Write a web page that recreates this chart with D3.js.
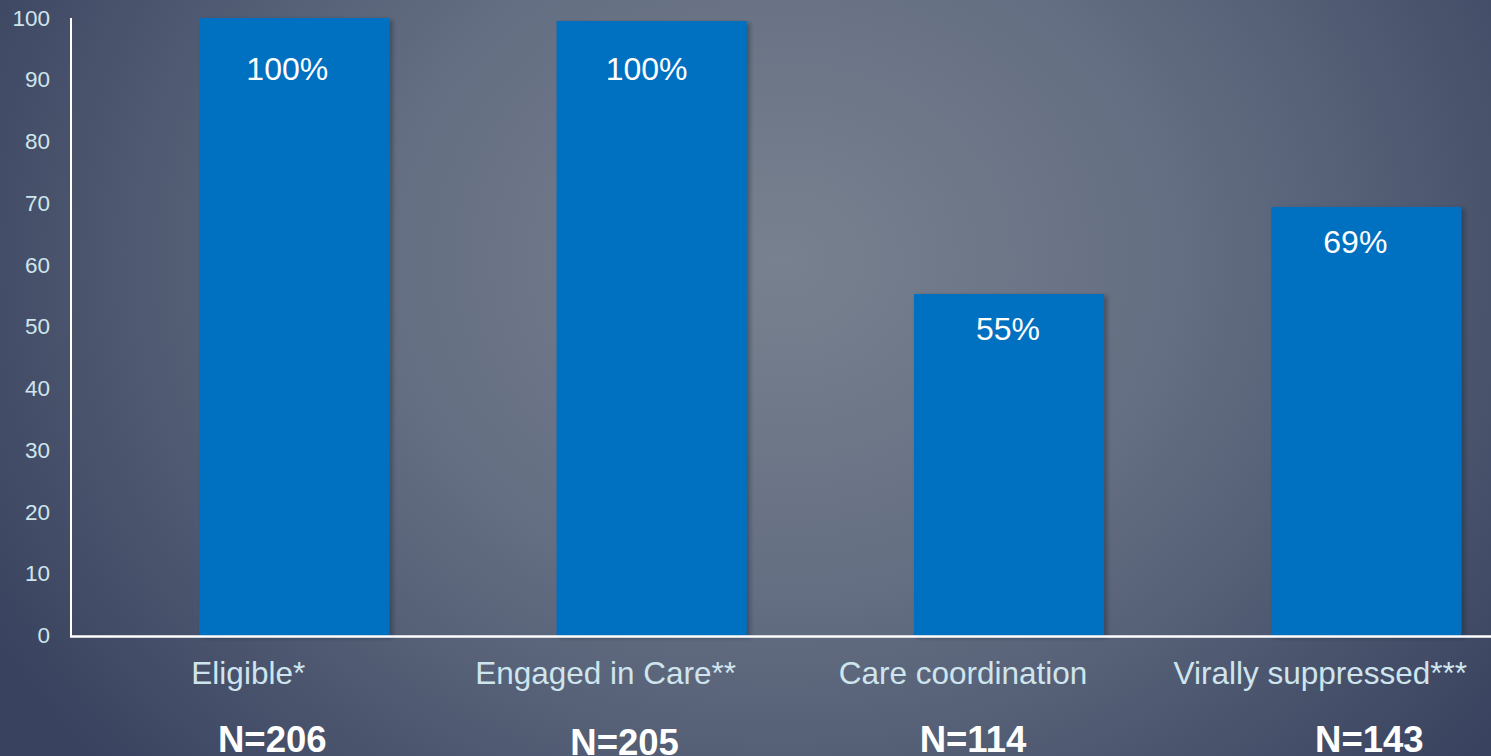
<!DOCTYPE html>
<html>
<head>
<meta charset="utf-8">
<script src="https://cdn.jsdelivr.net/npm/d3@7"></script>
<style>
  html, body { margin: 0; padding: 0; overflow: hidden; }
  body { width: 1491px; height: 756px; }
  svg { display: block; font-family: "Liberation Sans", Arial, sans-serif; }
</style>
</head>
<body>
<svg id="chart" width="1491" height="756"></svg>
<script>
// Care continuum data
const categories = ["Eligible*", "Engaged in Care**", "Care coordination", "Virally suppressed***"];
const percents = [100, 99.5, 55.3, 69.4];
const valueLabels = ["100%", "100%", "55%", "69%"];
const counts = ["N=206", "N=205", "N=114", "N=143"];
const yTicks = [0, 10, 20, 30, 40, 50, 60, 70, 80, 90, 100];

const W = 1491, H = 756;
const svg = d3.select("#chart");
const defs = svg.append("defs");

// Slide background: soft radial glow, darker toward the corners
const bg = defs.append("radialGradient")
  .attr("id", "bgGrad")
  .attr("gradientUnits", "userSpaceOnUse")
  .attr("cx", 780).attr("cy", 260).attr("r", 900)
  .attr("gradientTransform", "translate(780,260) scale(1,0.85) translate(-780,-260)");
bg.append("stop").attr("offset", "0%").attr("stop-color", "#78818f");
bg.append("stop").attr("offset", "45%").attr("stop-color", "#646e82");
bg.append("stop").attr("offset", "100%").attr("stop-color", "#39435f");

const shadow = defs.append("filter").attr("id", "barShadow")
  .attr("x", "-10%").attr("y", "-10%").attr("width", "130%").attr("height", "130%");
shadow.append("feDropShadow")
  .attr("dx", 3).attr("dy", 2).attr("stdDeviation", 2)
  .attr("flood-color", "#1a2030").attr("flood-opacity", 0.45);

svg.append("rect").attr("width", W).attr("height", H).attr("fill", "url(#bgGrad)");

const axisX0 = 71, axisX1 = 1491;
const y = d3.scaleLinear().domain([0, 100]).range([635.5, 18]);
const x = d3.scaleBand().domain(categories).range([115.6, 1545]).paddingInner(0.468).paddingOuter(0.234);

// Bars
svg.append("g").selectAll("rect")
  .data(percents)
  .join("rect")
  .attr("x", (d, i) => x(categories[i]))
  .attr("width", x.bandwidth())
  .attr("y", d => y(d))
  .attr("height", d => y(0) - y(d))
  .attr("fill", "#0070c0")
  .attr("filter", "url(#barShadow)");

// Axes
const yAxis = d3.axisLeft(y).tickValues(yTicks).tickSize(0).tickPadding(21).tickFormat(d3.format("d"));
const gy = svg.append("g").attr("transform", `translate(${axisX0},0)`).call(yAxis);
gy.select(".domain").remove();
gy.selectAll("text")
  .attr("fill", "#cfe5ee")
  .style("font-size", "22.5px")
  .style("font-family", "'Liberation Sans', Arial, sans-serif");

svg.append("line")
  .attr("x1", axisX0).attr("x2", axisX0)
  .attr("y1", y(100)).attr("y2", y(0) + 1)
  .attr("stroke", "#ffffff").attr("stroke-width", 2);
svg.append("line")
  .attr("x1", axisX0 - 1).attr("x2", axisX1)
  .attr("y1", y(0) + 1).attr("y2", y(0) + 1)
  .attr("stroke", "#ffffff").attr("stroke-width", 2.5);

// Percent labels inside bars (kept below the top band of the plot)
const labelShift = [-7, -5, -1, -11];
svg.append("g").selectAll("text")
  .data(percents)
  .join("text")
  .attr("x", (d, i) => x(categories[i]) + x.bandwidth() / 2 + labelShift[i])
  .attr("y", d => Math.max(y(d) + 46, y(90)))
  .attr("text-anchor", "middle")
  .attr("fill", "#ffffff")
  .style("font-size", "32px")
  .text((d, i) => valueLabels[i]);

// Category names
svg.append("g").selectAll("text")
  .data(categories)
  .join("text")
  .attr("x", d => x(d) + x.bandwidth() / 2 - 46)
  .attr("y", 684)
  .attr("text-anchor", "middle")
  .attr("fill", "#cfe5ee")
  .style("font-size", "31.5px")
  .text(d => d);

// Sample sizes
const nShift = [-22, -27, -36, 3];
svg.append("g").selectAll("text")
  .data(counts)
  .join("text")
  .attr("x", (d, i) => x(categories[i]) + x.bandwidth() / 2 + nShift[i])
  .attr("y", (d, i) => i === 1 ? 755 : 752)
  .attr("text-anchor", "middle")
  .attr("fill", "#ffffff")
  .style("font-size", "36.5px")
  .style("font-weight", "bold")
  .text(d => d);
</script>
</body>
</html>
